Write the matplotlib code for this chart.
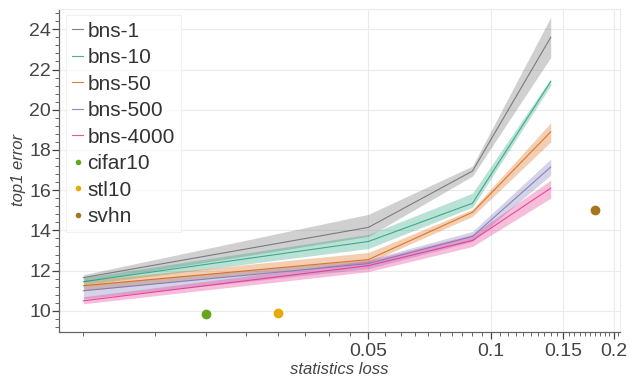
import numpy as np
import matplotlib
matplotlib.use("Agg")
import matplotlib.pyplot as plt
from matplotlib.ticker import FixedLocator, FixedFormatter, MultipleLocator, NullFormatter

plt.rcParams['font.family'] = ['Liberation Sans', 'DejaVu Sans']

# ---- data ----
x_loss = [0.01, 0.05, 0.09, 0.14]
series_names = ["bns-1", "bns-10", "bns-50", "bns-500", "bns-4000"]
bns1_mean = [11.65, 14.15, 16.95, 23.6]
bns1_lo = [11.45, 13.7, 16.7, 22.6]
bns1_hi = [11.8, 14.8, 17.2, 24.6]
bns10_mean = [11.45, 13.45, 15.35, 21.4]
bns10_lo = [11.3, 13.1, 15.15, 21.2]
bns10_hi = [11.65, 13.8, 15.85, 21.55]
bns50_mean = [11.25, 12.55, 14.9, 18.9]
bns50_lo = [11.0, 12.4, 14.7, 18.4]
bns50_hi = [11.5, 12.9, 15.05, 19.35]
bns500_mean = [11.0, 12.35, 13.7, 17.15]
bns500_lo = [10.6, 12.1, 13.45, 16.75]
bns500_hi = [11.3, 12.55, 13.95, 17.55]
bns4000_mean = [10.5, 12.25, 13.5, 16.1]
bns4000_lo = [10.35, 11.95, 13.2, 15.6]
bns4000_hi = [10.7, 12.5, 13.8, 16.5]

point_names = ["cifar10", "stl10", "svhn"]
point_x = [0.02, 0.03, 0.18]
point_y = [9.83, 9.87, 15.0]

x_tick_vals = [0.05, 0.1, 0.15, 0.2]
x_tick_labels = ["0.05", "0.1", "0.15", "0.2"]

line_colors = ["#666666", "#1b9e77", "#d95f02", "#7570b3", "#e7298a"]
point_colors = ["#66a61e", "#e6ab02", "#a6761d"]

means = [bns1_mean, bns10_mean, bns50_mean, bns500_mean, bns4000_mean]
los = [bns1_lo, bns10_lo, bns50_lo, bns500_lo, bns4000_lo]
his = [bns1_hi, bns10_hi, bns50_hi, bns500_hi, bns4000_hi]

fig = plt.figure(figsize=(6.38, 3.82), dpi=100)
ax = fig.add_axes([0.093, 0.132, 0.879, 0.844])

for name, m, lo, hi, c in zip(series_names, means, los, his, line_colors):
    ax.fill_between(x_loss, lo, hi, color=c, alpha=0.3, linewidth=0)
    ax.plot(x_loss, m, color=c, lw=0.8, alpha=0.8, label=name)

for name, px, py, c in zip(point_names, point_x, point_y, point_colors):
    ax.plot([px], [py], 'o', color=c, markersize=6, label=name, linestyle='none')

ax.set_xscale('log')
ax.set_xlim(0.00873, 0.2072)
ax.set_ylim(8.97, 25.0)

ax.xaxis.set_major_locator(FixedLocator(x_tick_vals))
ax.xaxis.set_major_formatter(FixedFormatter(x_tick_labels))
minor = [v for v in np.round(np.arange(0.01, 0.2075, 0.005), 4) if v not in x_tick_vals]
ax.xaxis.set_minor_locator(FixedLocator(minor))
ax.xaxis.set_minor_formatter(NullFormatter())
ax.yaxis.set_major_locator(MultipleLocator(2))
ax.yaxis.set_minor_locator(MultipleLocator(0.4))

ax.grid(True, which='major', color='#ebebeb', lw=0.8)
ax.set_axisbelow(True)
for s in ['top', 'right']:
    ax.spines[s].set_color('#ebebeb')
    ax.spines[s].set_linewidth(0.8)
for s in ['left', 'bottom']:
    ax.spines[s].set_color('#666666')
    ax.spines[s].set_linewidth(0.9)

ax.tick_params(axis='both', which='major', labelsize=14, colors='#444444', length=5, width=0.9, direction='out')
ax.tick_params(axis='both', which='minor', colors='#666666', length=3, width=0.7, direction='out')
ax.tick_params(axis='y', which='major', pad=1)

ax.set_xlabel('statistics loss', fontsize=12, style='italic', color='#444444', labelpad=1)
ax.set_ylabel('top1 error', fontsize=12, style='italic', color='#444444', labelpad=2)

leg = ax.legend(loc='upper left', fontsize=15, handlelength=0.55, handletextpad=0.2,
                labelspacing=0.36, borderpad=0.3, markerscale=0.5, frameon=True,
                fancybox=False, borderaxespad=0.3)
leg.get_frame().set_edgecolor('#eeeeee')
leg.get_frame().set_linewidth(0.8)
for t in leg.get_texts():
    t.set_color('#333333')

fig.savefig('out.png', dpi=100)
